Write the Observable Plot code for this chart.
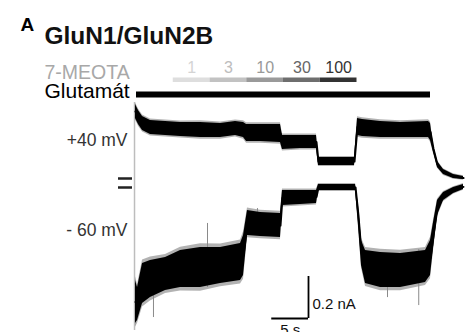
<!DOCTYPE html>
<html>
<head>
<meta charset="utf-8">
<script src="https://cdn.jsdelivr.net/npm/d3@7"></script>
<script src="https://cdn.jsdelivr.net/npm/@observablehq/plot@0.6"></script>
<style>
  html, body { margin: 0; padding: 0; background: #fff; }
  #chart { width: 466px; height: 332px; overflow: hidden; }
  svg { display: block; }
</style>
</head>
<body>
<div id="chart"></div>
<script>
// ---------- DATA (seconds, nA) ----------
const concLabels = ["1", "3", "10", "30", "100"];
const concStart  = [5, 10, 15, 20, 25];
const concEnd    = [10, 15, 20, 25, 30];
const glutamateOn  = [0];
const glutamateOff = [40];

// +40 mV trace: envelope of the noisy current (nA)
const topT  = [-0.14, 0.27, 0.82, 1.90, 3.95, 5.99, 8.71, 11.43, 13.47, 14.56, 14.97, 16.87, 19.59, 19.86, 22.31, 24.49, 24.76, 27.07, 29.66, 30.07, 30.75, 33.20, 35.92, 39.73, 40.00, 40.41, 40.95, 41.77, 43.13, 44.49];
const topHi = [0.348, 0.319, 0.290, 0.271, 0.267, 0.262, 0.262, 0.257, 0.267, 0.262, 0.252, 0.252, 0.252, 0.200, 0.200, 0.200, 0.095, 0.095, 0.095, 0.281, 0.276, 0.267, 0.262, 0.267, 0.257, 0.152, 0.076, 0.038, 0.014, 0.005];
const topLo = [0.281, 0.252, 0.224, 0.205, 0.200, 0.195, 0.190, 0.190, 0.200, 0.190, 0.171, 0.171, 0.167, 0.133, 0.138, 0.138, 0.057, 0.057, 0.057, 0.200, 0.195, 0.190, 0.190, 0.190, 0.176, 0.119, 0.048, 0.014, -0.005, -0.010];

// -60 mV trace
const botT  = [-0.14, 0.14, 0.82, 1.90, 3.95, 5.99, 8.71, 11.43, 14.15, 14.56, 15.10, 16.87, 19.59, 19.86, 22.31, 24.49, 24.76, 29.80, 30.20, 30.61, 31.16, 33.20, 35.92, 39.32, 40.00, 40.41, 40.95, 41.77, 43.13, 44.49];
const botHi = [-0.448, -0.481, -0.367, -0.352, -0.338, -0.305, -0.290, -0.290, -0.271, -0.233, -0.114, -0.124, -0.129, -0.019, -0.019, -0.019, 0.010, 0.010, -0.090, -0.257, -0.305, -0.314, -0.319, -0.305, -0.257, -0.171, -0.067, -0.029, -0.005, 0.010];
const botLo = [-0.652, -0.638, -0.557, -0.529, -0.495, -0.481, -0.481, -0.462, -0.448, -0.424, -0.233, -0.238, -0.243, -0.090, -0.086, -0.081, -0.019, -0.019, -0.186, -0.376, -0.462, -0.481, -0.481, -0.457, -0.424, -0.295, -0.138, -0.067, -0.033, -0.014];

// occasional spikes in the -60 mV trace
const spikeT  = [2.31, 9.66, 16.46, 34.15, 38.40];
const spikeHi = [-0.448, -0.176, -0.105, -0.320, -0.300];
const spikeLo = [-0.624, -0.481, -0.150, -0.529, -0.567];

// onset artefact
const onsetT = [-0.27];

// scale bar sizes
const scaleSeconds = 5;
const scaleNA = 0.2;

// ---------- LAYOUT ----------
const PX_PER_S = 7.35, X0 = 136;      // pixel of t = 0
const PX_PER_NA = 210, Y0 = 186;      // pixel of 0 nA (bottom trace)
const xv = px => (px - X0) / PX_PER_S;
const yv = px => (Y0 - px) / PX_PER_NA;
const TOP_OFFSET = 9 / PX_PER_NA;     // top trace baseline sits slightly higher
const W = 466, H = 332;

const concColors  = ["#dedede", "#c2c2c2", "#9a9a9a", "#6e6e6e", "#333333"];
const concText    = ["#d4d4d4", "#bdbdbd", "#999999", "#666666", "#333333"];
const concWeight  = ["normal", "normal", "bold", "bold", "bold"];

const concRows = concLabels.map((c, i) => ({c, x1: concStart[i], x2: concEnd[i], i}));
const topRows = topT.map((t, i) => ({t, hi: topHi[i] + TOP_OFFSET, lo: topLo[i] + TOP_OFFSET}));
const botRows = botT.map((t, i) => ({t, hi: botHi[i], lo: botLo[i]}));
const spikeRows = spikeT.map((t, i) => ({t, hi: spikeHi[i], lo: spikeLo[i]}));
const glutRows = glutamateOn.map((s, i) => ({x1: s, x2: glutamateOff[i]}));

// soft fuzzy edge of the noisy bands, proportional to the band width
const fringe = d => 0.08 * (d.hi - d.lo) + 0.002;

const FONT = "Liberation Sans, Arial, Helvetica, sans-serif";
const SBX = xv(308), SBY = yv(318);

const chart = Plot.plot({
  width: W, height: H,
  marginTop: 0, marginRight: 0, marginBottom: 0, marginLeft: 0,
  x: {domain: [xv(0), xv(W)], axis: null},
  y: {domain: [yv(H), yv(0)], axis: null},
  color: {type: "identity"},
  style: {background: "#fff", fontFamily: FONT},
  marks: [
    // titles
    Plot.text(["A"], {x: xv(20), y: yv(30), text: d => d, textAnchor: "start", lineAnchor: "bottom", fontSize: 19, fontWeight: "bold", fill: "#000"}),
    Plot.text(["GluN1/GluN2B"], {x: xv(44), y: yv(43), text: d => d, textAnchor: "start", lineAnchor: "bottom", fontSize: 24.5, fontWeight: "bold", fill: "#111"}),
    Plot.text(["7-MEOTA"], {x: xv(44), y: yv(78), text: d => d, textAnchor: "start", lineAnchor: "bottom", fontSize: 19.5, fill: "#a8a8a8"}),
    Plot.text(["Glutamát"], {x: xv(44), y: yv(97), text: d => d, textAnchor: "start", lineAnchor: "bottom", fontSize: 21, fill: "#000"}),
    // concentration bars + labels
    Plot.rect(concRows, {x1: "x1", x2: "x2", y1: yv(82), y2: yv(77.5), fill: d => concColors[d.i]}),
    Plot.text(concRows, {x: d => (d.x1 + d.x2) / 2, y: yv(72), text: "c", lineAnchor: "bottom", fontSize: 16, fill: d => concText[d.i], fontWeight: d => concWeight[d.i]}),
    // glutamate bar
    Plot.rect(glutRows, {x1: "x1", x2: "x2", y1: yv(97.5), y2: yv(91.5), fill: "#000"}),
    // onset artefact
    Plot.ruleX(onsetT, {x: d => d, y1: yv(330), y2: yv(102), stroke: "#bdbdbd", strokeWidth: 1.5}),
    // fuzzy fringes
    Plot.areaY(topRows, {x: "t", y1: d => d.lo - fringe(d), y2: d => d.hi + fringe(d), fill: "#000", fillOpacity: 0.3}),
    Plot.areaY(botRows, {x: "t", y1: d => d.lo - fringe(d), y2: d => d.hi + fringe(d), fill: "#000", fillOpacity: 0.3}),
    Plot.ruleX(spikeRows, {x: "t", y1: "lo", y2: "hi", stroke: "#8a8a8a", strokeWidth: 1}),
    // traces
    Plot.areaY(topRows, {x: "t", y1: "lo", y2: "hi", fill: "#000"}),
    Plot.line(topRows, {x: "t", y: d => (d.hi + d.lo) / 2, stroke: "#000", strokeWidth: 2}),
    Plot.areaY(botRows, {x: "t", y1: "lo", y2: "hi", fill: "#000"}),
    Plot.line(botRows, {x: "t", y: d => (d.hi + d.lo) / 2, stroke: "#000", strokeWidth: 2}),
    // axis break "="
    Plot.ruleY([TOP_OFFSET, 0], {y: d => d - 1 / PX_PER_NA, x1: xv(118), x2: xv(132), stroke: "#222", strokeWidth: 2.5}),
    // voltage labels
    Plot.text(["+40 mV"], {x: xv(127), y: yv(145), text: d => d, textAnchor: "end", lineAnchor: "bottom", fontSize: 17.5, fill: "#333"}),
    Plot.text(["- 60 mV"], {x: xv(127), y: yv(235), text: d => d, textAnchor: "end", lineAnchor: "bottom", fontSize: 17.5, fill: "#333"}),
    // scale bar
    Plot.ruleX([SBX], {x: d => d, y1: SBY, y2: SBY + scaleNA, stroke: "#000", strokeWidth: 1.8}),
    Plot.ruleY([SBY], {y: d => d, x1: SBX - scaleSeconds, x2: SBX, stroke: "#000", strokeWidth: 1.8}),
    Plot.text([scaleNA + " nA"], {x: SBX + 4 / PX_PER_S, y: SBY + scaleNA * 0.22, text: d => d, textAnchor: "start", lineAnchor: "bottom", fontSize: 15, fill: "#111"}),
    Plot.text([scaleSeconds + " s"], {x: SBX - scaleSeconds / 2, y: yv(334), text: d => d, lineAnchor: "bottom", fontSize: 15, fill: "#111"})
  ]
});
document.getElementById("chart").appendChild(chart);
</script>
</body>
</html>
